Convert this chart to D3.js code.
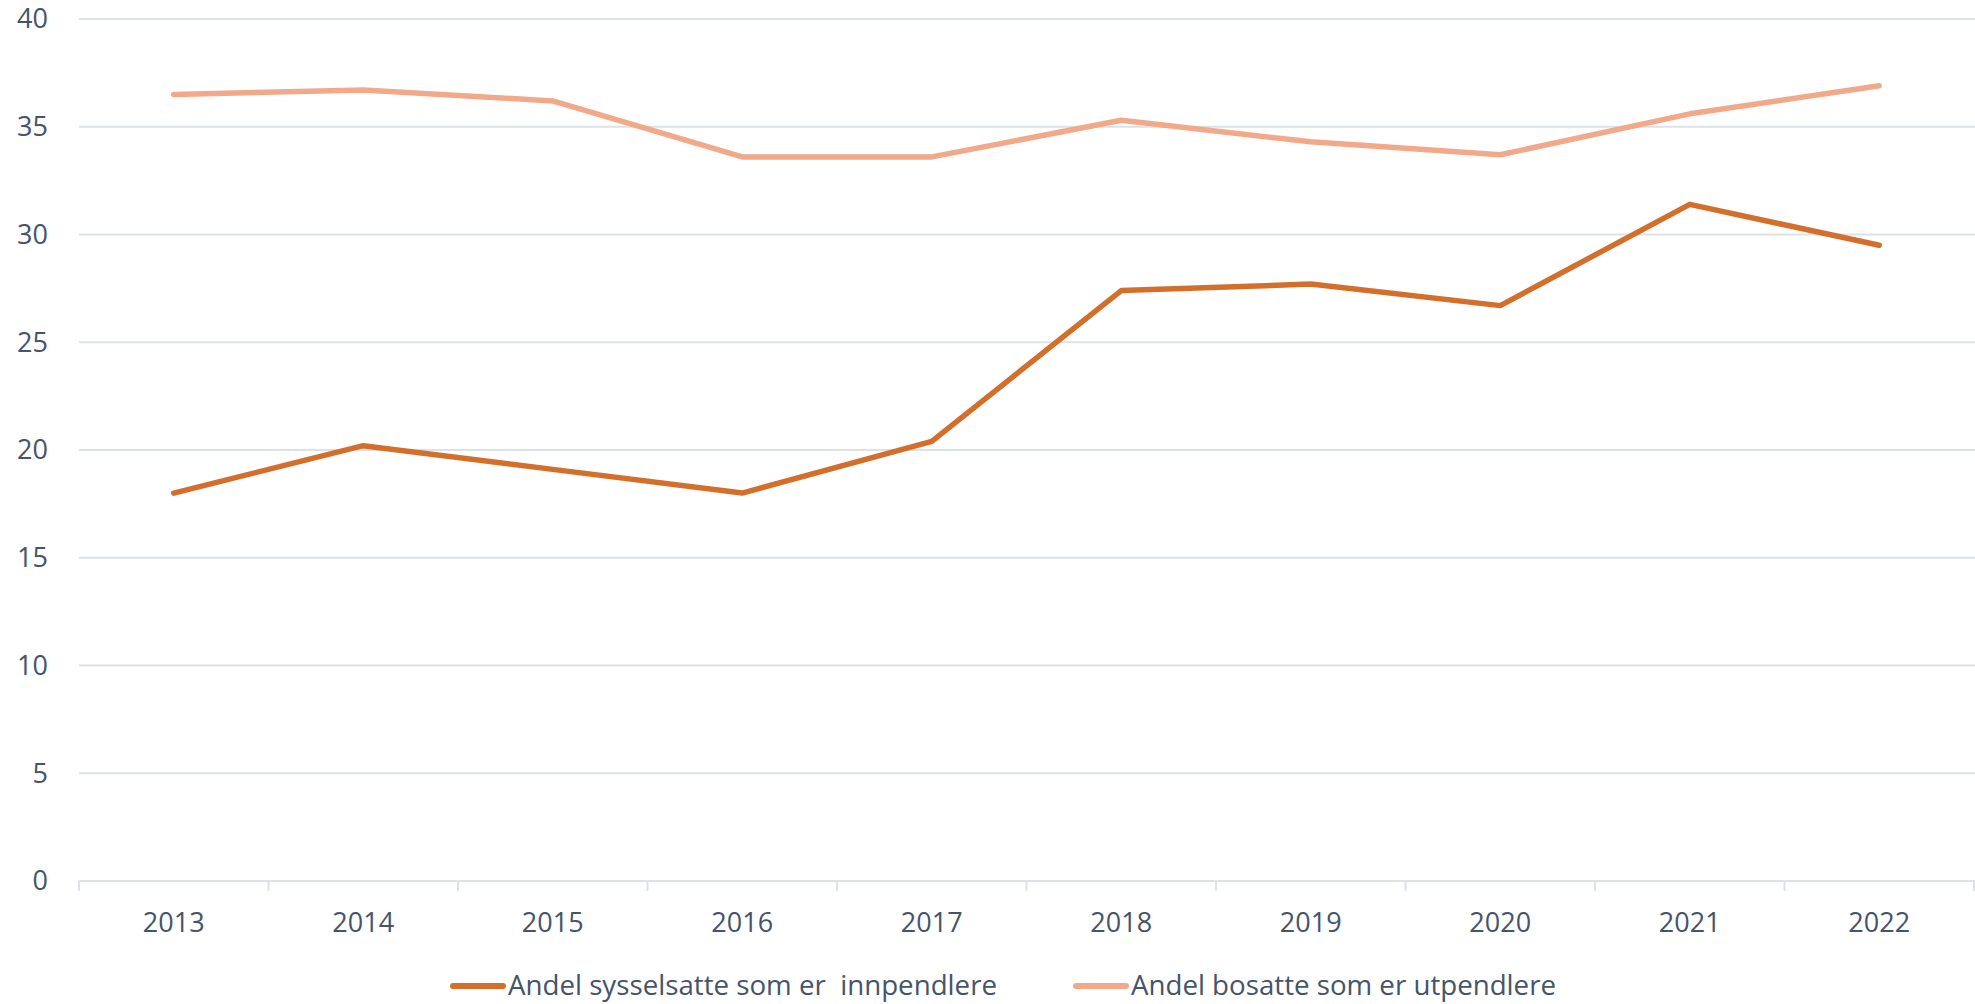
<!DOCTYPE html>
<html>
<head>
<meta charset="utf-8">
<script src="https://cdn.jsdelivr.net/npm/d3@7"></script>
<style>
  body { margin: 0; background: #fff; }
  text { font-family: "Open Sans", sans-serif; fill: #44546A; }
</style>
</head>
<body>
<svg id="chart"></svg>
<script>
'use strict';

var years = ['2013', '2014', '2015', '2016', '2017', '2018', '2019', '2020', '2021', '2022'];
var innpendlere = [18.0, 20.2, 19.1, 18.0, 20.4, 27.4, 27.7, 26.7, 31.4, 29.5];
var utpendlere = [36.5, 36.7, 36.2, 33.6, 33.6, 35.3, 34.3, 33.7, 35.6, 36.9];
var yTicks = [0, 5, 10, 15, 20, 25, 30, 35, 40];
var seriesNames = ['Andel sysselsatte som er  innpendlere', 'Andel bosatte som er utpendlere'];
var seriesColors = ['#D46F2B', '#F2A98A'];

const W = 1975, H = 1004;
const plotLeft = 79, plotRight = 1975, plotTop = 19, plotBottom = 881;

var svg = d3.select('#chart').attr('width', W).attr('height', H);

const x = d3.scaleBand().domain(years).range([plotLeft, plotRight - 1]);
const y = d3.scaleLinear().domain([0, 40]).range([plotBottom, plotTop]);

// gridlines
svg.append('g')
  .selectAll('line')
  .data(yTicks)
  .enter()
  .append('line')
  .attr('x1', plotLeft)
  .attr('x2', plotRight)
  .attr('y1', d => y(d))
  .attr('y2', d => y(d))
  .attr('stroke', '#DDE2E9')
  .attr('stroke-width', 2);

// y labels
svg.append('g')
  .selectAll('text')
  .data(yTicks)
  .enter()
  .append('text')
  .attr('x', 48)
  .attr('y', d => y(d))
  .attr('dy', '0.35em')
  .attr('text-anchor', 'end')
  .attr('font-size', '27px')
  .text(d => d);

// x axis ticks between categories
var bounds = years.map(d => x(d)).concat([x(years[years.length - 1]) + x.bandwidth()]);
svg.append('g')
  .selectAll('line')
  .data(bounds)
  .enter()
  .append('line')
  .attr('x1', d => d)
  .attr('x2', d => d)
  .attr('y1', plotBottom)
  .attr('y2', plotBottom + 10)
  .attr('stroke', '#DDE2E9')
  .attr('stroke-width', 2);

svg.append('g')
  .selectAll('text')
  .data(years)
  .enter()
  .append('text')
  .attr('x', d => x(d) + x.bandwidth() / 2)
  .attr('y', 923)
  .attr('dy', '0.35em')
  .attr('text-anchor', 'middle')
  .attr('font-size', '27px')
  .text(d => d);

// lines
const line = d3.line()
  .x((d, i) => x(years[i]) + x.bandwidth() / 2)
  .y(d => y(d));

[innpendlere, utpendlere].forEach(function(data, k) {
  svg.append('path')
    .datum(data)
    .attr('d', line)
    .attr('fill', 'none')
    .attr('stroke', seriesColors[k])
    .attr('stroke-width', 5.5)
    .attr('stroke-linecap', 'round')
    .attr('stroke-linejoin', 'round');
});

// legend
var legendX = [451, 1074];
var legendW = [489, 425];
seriesNames.forEach(function(name, k) {
  var g = svg.append('g').attr('transform', 'translate(' + legendX[k] + ',986)');
  g.append('line')
    .attr('x1', 2).attr('x2', 52)
    .attr('y1', 0).attr('y2', 0)
    .attr('stroke', seriesColors[k])
    .attr('stroke-width', 6)
    .attr('stroke-linecap', 'round');
  g.append('text')
    .attr('x', 57)
    .attr('y', 0)
    .attr('dy', '0.35em')
    .attr('font-size', '27px')
    .attr('textLength', legendW[k])
    .attr('lengthAdjust', 'spacingAndGlyphs')
    .style('white-space', 'pre')
    .text(name);
});
</script>
</body>
</html>
